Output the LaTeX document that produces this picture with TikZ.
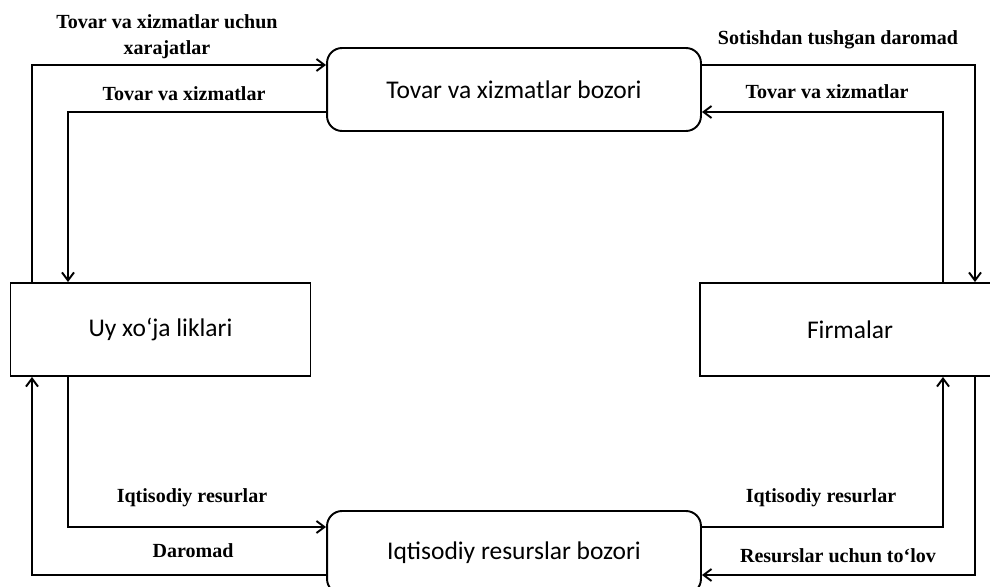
\documentclass[tikz,border=0pt]{standalone}
\usepackage{fontspec}
\setmainfont{Liberation Serif}
\newfontfamily\boxfont{Carlito}
\usepackage{tikz}
\usetikzlibrary{arrows.meta, positioning}
\tikzstyle{market}    = [rectangle, rounded corners=0.3cm, minimum width=7.48cm, minimum height=1.66cm, text centered, draw=black, line width=1.1pt, font=\boxfont\fontsize{14.5}{17}\selectfont]
\tikzstyle{agent}     = [rectangle, minimum width=6.0cm, minimum height=1.86cm, text centered, draw=black, line width=1.1pt, font=\boxfont\fontsize{14.5}{17}\selectfont]
\tikzstyle{arrow}     = [line width=1.1pt, -{Straight Barb[length=1.6mm, width=2.4mm]}]
\tikzstyle{flowlabel} = [font=\bfseries\fontsize{11.4}{14.7}\selectfont, inner sep=0pt]
\tikzset{every node/.style={align=center}}

\begin{document}
\begin{tikzpicture}[x=0.02cm, y=-0.02cm]
    \useasboundingbox (0,0) rectangle (990,587);

    \node (tb) [market] at (514,89.5)  {Tovar va xizmatlar bozori};
    \node (rb) [market] at (514,552.5) {Iqtisodiy resurslar bozori};
    \node (hh) [agent]  at (160.5,329.5) {Uy xo‘ja liklari};
    \node (fm) [agent]  at (850,329.5) {Firmalar};

    % lanes of the connectors
    \coordinate (lo) at (32,0);
    \coordinate (li) at (68,0);
    \coordinate (ri) at (943,0);
    \coordinate (ro) at (975,0);
    \coordinate (to) at (0,65);
    \coordinate (ti) at (0,112);
    \coordinate (bi) at (0,527);
    \coordinate (bo) at (0,575);

    \draw [arrow] (hh.north -| lo) |- (tb.west |- to);
    \draw [arrow] (tb.west |- ti)  -| (hh.north -| li);
    \draw [arrow] (tb.east |- to)  -| (fm.north -| ro);
    \draw [arrow] (fm.north -| ri) |- (tb.east |- ti);
    \draw [arrow] (hh.south -| li) |- (rb.west |- bi);
    \draw [arrow] (rb.west |- bo)  -| (hh.south -| lo);
    \draw [arrow] (rb.east |- bi)  -| (fm.south -| ri);
    \draw [arrow] (fm.south -| ro) |- (rb.east |- bo);

    \node (l1) [flowlabel] at (167,37)  {Tovar va xizmatlar uchun\\xarajatlar};
    \node (l2) [flowlabel] at (184,94)  {Tovar va xizmatlar};
    \node (l3) [flowlabel] at (838,40)  {Sotishdan tushgan daromad};
    \node (l4) [flowlabel] at (827,92)  {Tovar va xizmatlar};
    \node (l5) [flowlabel] at (192,498) {Iqtisodiy resurlar};
    \node (l6) [flowlabel] at (193,551) {Daromad};
    \node (l7) [flowlabel] at (821,498) {Iqtisodiy resurlar};
    \node (l8) [flowlabel] at (838,556) {Resurslar uchun to‘lov};
\end{tikzpicture}
\end{document}
